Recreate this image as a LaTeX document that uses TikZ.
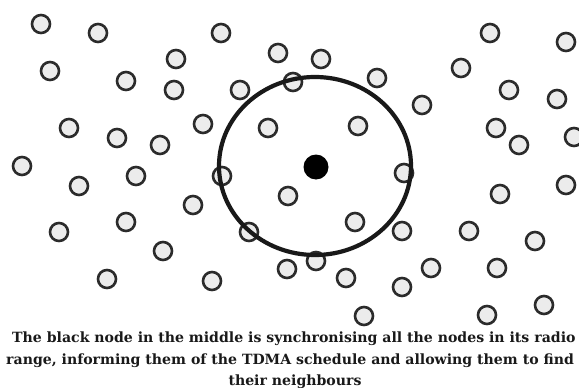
\documentclass[tikz,border=0pt]{standalone}
\usepackage{fontspec}
\setmainfont{DejaVu Serif}
\definecolor{ringc}{HTML}{2B2B2B}
\definecolor{fillc}{HTML}{ECECEC}
\begin{document}
\begin{tikzpicture}[x=1pt,y=-1pt,
  sensor/.style={circle,draw=ringc,fill=fillc,line width=2.6pt,minimum size=18pt,inner sep=0pt},
  master/.style={circle,fill=black,minimum size=25pt,inner sep=0pt},
  rangering/.style={draw=black!90,line width=4.2pt},
  caption/.style={font=\fontsize{14.1}{18}\selectfont\bfseries,text=black!90,inner sep=0pt}]
\useasboundingbox[fill=white] (0,0) rectangle (579,388);
\foreach \px/\py [count=\i] in {
  41/24, 98/33, 221/33, 278/53, 321/59, 176/59, 50/71, 126/81, 174/90, 240/90,
  293/82, 377/78, 461/68, 490/33, 566/42, 509/90, 557/99, 422/105, 69/128, 117/138,
  160/145, 203/124, 268/128, 358/126, 496/128, 519/145, 574/137, 22/166, 79/186, 136/176,
  222/176, 288/196, 193/205, 59/232, 126/222, 249/232, 163/251, 107/279, 212/281, 287/269,
  316/261, 355/222, 402/231, 404/173, 346/278, 402/287, 431/268, 469/231, 500/194, 566/185,
  535/241, 497/268, 544/305, 487/315, 364/316}
  \node[sensor] (n\i) at (\px,\py) {};
\node[master] (m) at (316,167) {};
\draw[rangering] (m) ++(-1,-1) ellipse [x radius=96, y radius=89];
\node[caption,anchor=base west] (c1) at (12,342) {The black node in the middle is synchronising all the nodes in its radio};
\node[caption,anchor=base west] (c2) at (6,364.5) {range, informing them of the TDMA schedule and allowing them to find};
\node[caption,anchor=base] (c3) at (295,385) {their neighbours};
\end{tikzpicture}
\end{document}
